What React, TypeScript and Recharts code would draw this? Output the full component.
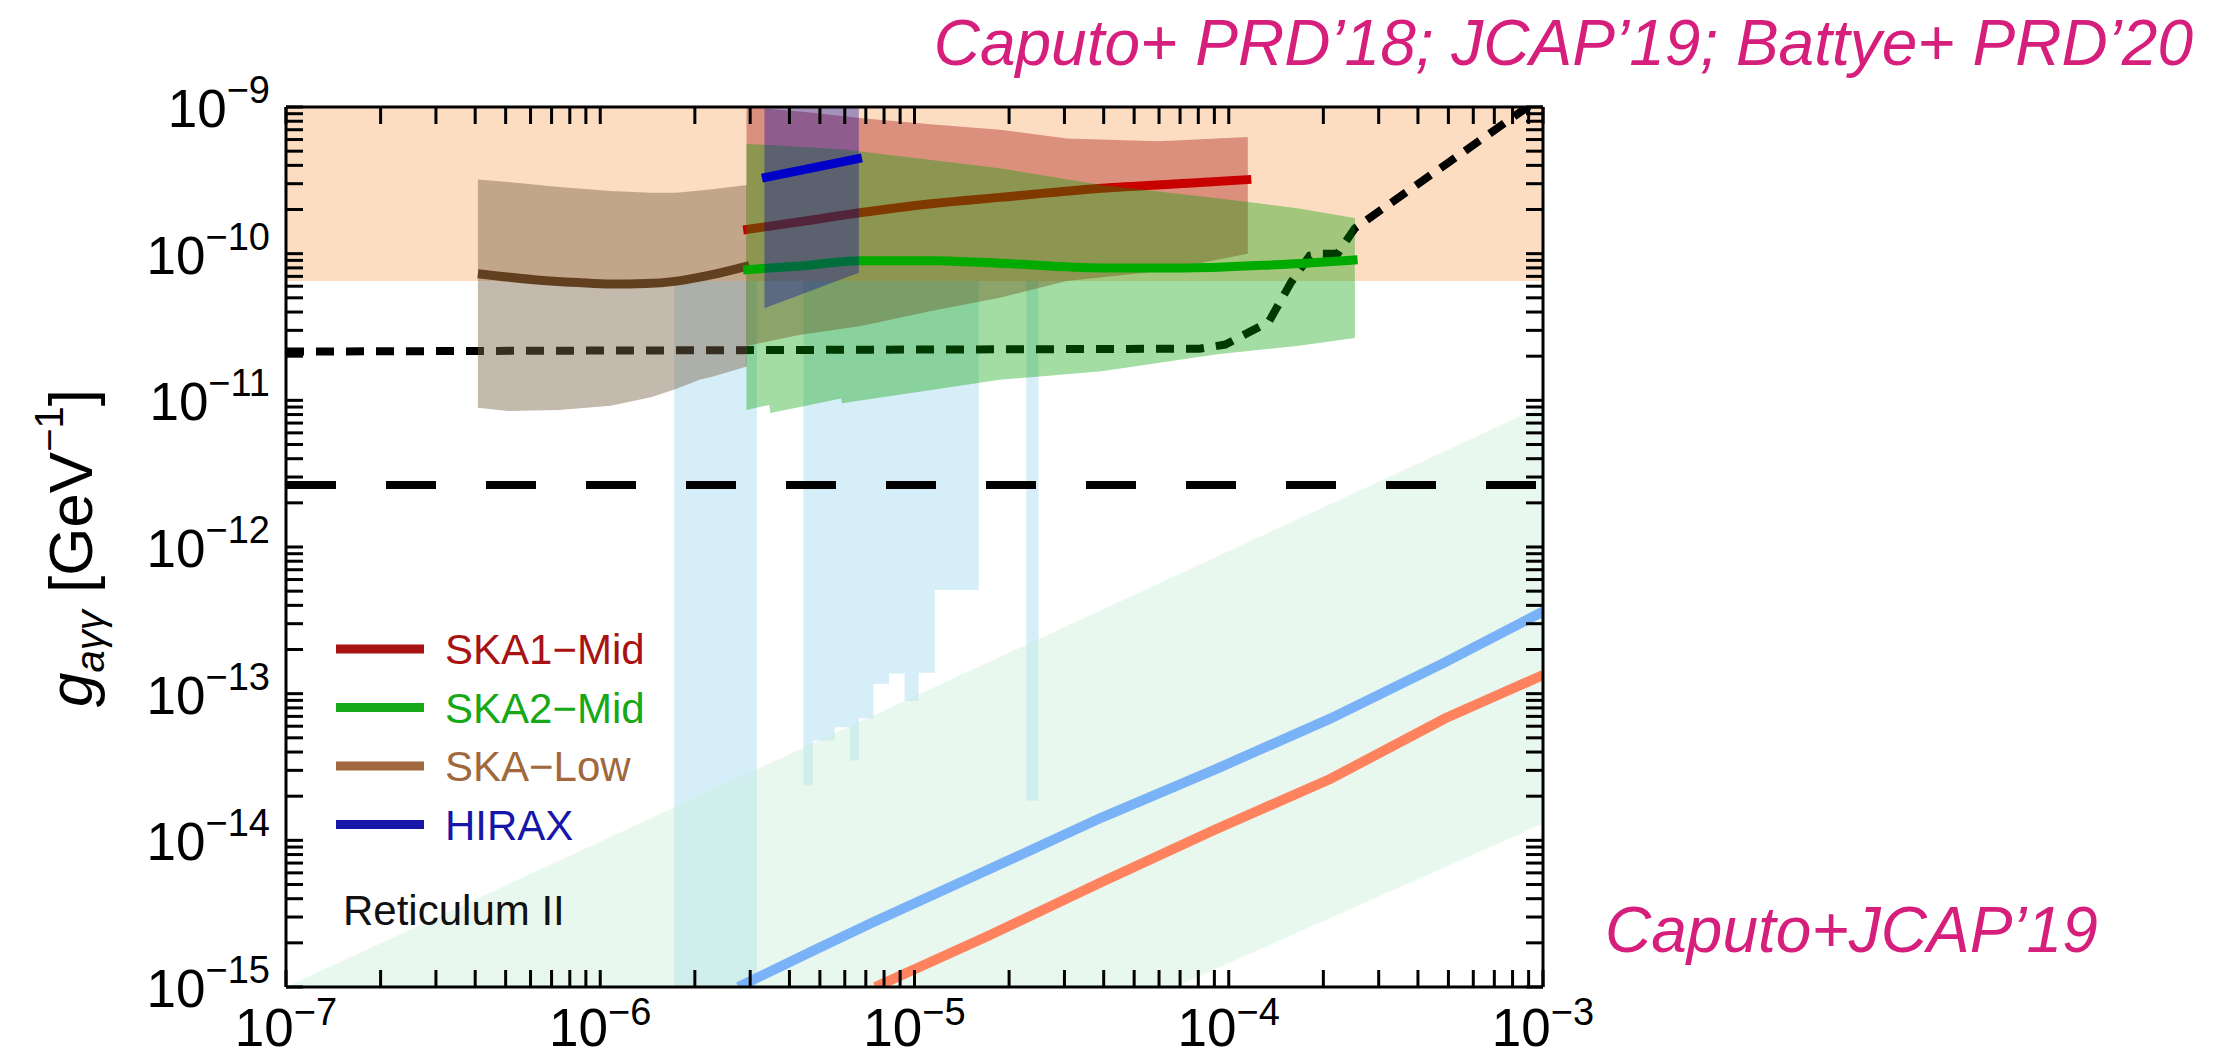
import React from 'react';
import { ComposedChart, Area, XAxis, YAxis, ReferenceLine, Legend } from 'recharts';

const WIDTH = 2234;
const HEIGHT = 1060;
const PLOT = { left: 286, right: 1543, top: 107, bottom: 987 };
const FONT = '"Liberation Sans", Arial, Helvetica, sans-serif';
const TICK_LEN = 17;
const MAGENTA = '#D61F7C';

// axis decades (log10) and minor multipliers
const X_DECADES = [-7, -6, -5, -4, -3];
const Y_DECADES = [-15, -14, -13, -12, -11, -10, -9];
const MINOR = [1, 2, 3, 4, 5, 6, 7, 8, 9];

// excluded region (top band)
const EXCL_M = [1e-7, 1e-3];
const EXCL_LO = [6.5e-11, 6.5e-11];
const EXCL_HI = [1e-9, 1e-9];

// haloscope-type vertical exclusions
const HALO1_M = [1.72e-6, 3.15e-6];
const HALO1_LO = [1e-15, 1e-15];
const HALO1_HI = [6.5e-11, 6.5e-11];
const HALO2_M = [4.43e-6, 4.75e-6, 5.57e-6, 6.24e-6, 6.65e-6, 7.4e-6, 8.3e-6, 9.3e-6, 1.03e-5, 1.16e-5, 1.6e-5];
const HALO2_LO = [2.37e-14, 4.8e-14, 5.9e-14, 3.5e-14, 6.8e-14, 1.17e-13, 1.37e-13, 8.9e-14, 1.39e-13, 5.1e-13, 5.1e-13];
const HALO2_HI = [6.5e-11, 6.5e-11, 6.5e-11, 6.5e-11, 6.5e-11, 6.5e-11, 6.5e-11, 6.5e-11, 6.5e-11, 6.5e-11, 6.5e-11];
const HALO3_M = [2.27e-5, 2.48e-5];
const HALO3_LO = [1.86e-14, 1.86e-14];
const HALO3_HI = [6.5e-11, 6.5e-11];

// Reticulum II band
const RET_M = [1e-7, 6.75e-5, 1e-3];
const RET_LO = [1e-15, 1e-15, 1.3e-14];
const RET_HI = [1e-15, 6.35e-13, 9.2e-12];

// Reticulum II lines
const RET_BLUE_M = [2.75e-6, 4.81e-6, 7.32e-6, 1.7e-5, 3.94e-5, 9.1e-5, 2.11e-4, 4.89e-4, 1e-3];
const RET_BLUE_G = [1e-15, 1.79e-15, 2.74e-15, 6.25e-15, 1.43e-14, 3.06e-14, 6.78e-14, 1.64e-13, 3.63e-13];
const RET_RED_M = [7.5e-6, 1.7e-5, 3.94e-5, 9.1e-5, 2.11e-4, 4.89e-4, 1e-3];
const RET_RED_G = [1e-15, 2.21e-15, 5.2e-15, 1.19e-14, 2.63e-14, 6.8e-14, 1.34e-13];

// short-dashed bound
const SDASH_M = [1e-7, 8.07e-5, 9.75e-5, 1.34e-4, 1.58e-4, 1.81e-4, 1.95e-4, 2.22e-4, 2.52e-4, 8.2e-4, 1e-3];
const SDASH_G = [2.15e-11, 2.25e-11, 2.4e-11, 3.42e-11, 6.4e-11, 9.7e-11, 1.0e-10, 1.0e-10, 1.49e-10, 8.8e-10, 1.18e-9];

// long-dashed bound
const LDASH_M = [1e-7, 1e-3];
const LDASH_G = [2.65e-12, 2.65e-12];

// SKA-Low
const LOW_BAND_M = [4.08e-7, 5.1e-7, 7.4e-7, 1.08e-6, 1.45e-6, 1.75e-6, 2.07e-6, 2.27e-6, 2.93e-6];
const LOW_BAND_LO = [8.9e-12, 8.45e-12, 8.6e-12, 9.2e-12, 1.05e-11, 1.2e-11, 1.38e-11, 1.45e-11, 1.7e-11];
const LOW_BAND_HI = [3.21e-10, 3.08e-10, 2.85e-10, 2.67e-10, 2.6e-10, 2.6e-10, 2.7e-10, 2.75e-10, 2.94e-10];
const LOW_M = [4.08e-7, 6.15e-7, 8.5e-7, 1.08e-6, 1.4e-6, 1.75e-6, 2.27e-6, 2.98e-6];
const LOW_G = [7.3e-11, 6.65e-11, 6.35e-11, 6.2e-11, 6.25e-11, 6.5e-11, 7.2e-11, 8.3e-11];

// SKA1-Mid
const MID1_BAND_M = [2.92e-6, 4.33e-6, 6.7e-6, 1.15e-5, 1.87e-5, 3.05e-5, 6.0e-5, 1.15e-4];
const MID1_BAND_LO = [2.35e-11, 2.8e-11, 3.2e-11, 4.1e-11, 5e-11, 6.5e-11, 7.6e-11, 1.0e-10];
const MID1_BAND_HI = [1e-9, 9.3e-10, 8.4e-10, 7.6e-10, 7.0e-10, 6.1e-10, 5.85e-10, 6.25e-10];
const MID1_M = [2.85e-6, 4.33e-6, 6.7e-6, 1.15e-5, 1.87e-5, 3.94e-5, 7.4e-5, 1.18e-4];
const MID1_G = [1.45e-10, 1.65e-10, 1.9e-10, 2.2e-10, 2.42e-10, 2.79e-10, 3.02e-10, 3.21e-10];

// SKA2-Mid
const MID2_BAND_M = [2.92e-6, 3.45e-6, 3.48e-6, 5.84e-6, 5.88e-6, 1.87e-5, 3.94e-5, 9.2e-5, 1.65e-4, 2.52e-4];
const MID2_BAND_LO = [8.6e-12, 9.3e-12, 8.2e-12, 1.03e-11, 9.55e-12, 1.38e-11, 1.58e-11, 2.06e-11, 2.35e-11, 2.66e-11];
const MID2_BAND_HI = [5.6e-10, 5.5e-10, 5.5e-10, 5.15e-10, 5.15e-10, 3.82e-10, 2.94e-10, 2.39e-10, 2.04e-10, 1.75e-10];
const MID2_M = [2.85e-6, 4.33e-6, 6.7e-6, 1.15e-5, 1.87e-5, 3.94e-5, 7.4e-5, 1.4e-4, 2.57e-4];
const MID2_G = [7.75e-11, 8.25e-11, 8.95e-11, 8.95e-11, 8.6e-11, 8.0e-11, 8.0e-11, 8.4e-11, 9.1e-11];

// HIRAX
const HIRAX_BAND_M = [3.33e-6, 6.65e-6];
const HIRAX_BAND_LO = [4.24e-11, 7.4e-11];
const HIRAX_BAND_HI = [1e-9, 1e-9];
const HIRAX_M = [3.27e-6, 6.8e-6];
const HIRAX_G = [3.27e-10, 4.5e-10];

const LEGEND_NAMES = ['SKA1\u2212Mid', 'SKA2\u2212Mid', 'SKA\u2212Low', 'HIRAX'];
const LEGEND_COLORS = ['#A81212', '#16A816', '#A0683C', '#1616A8'];

const band = (m: number[], lo: number[], hi: number[]) => m.map((x, i) => ({ x, v: [lo[i], hi[i]] }));
const curve = (m: number[], g: number[]) => m.map((x, i) => ({ x, v: g[i] }));

const X_TICKS = X_DECADES.flatMap((d) => (d === -3 ? [1e-3] : MINOR.map((k) => k * Math.pow(10, d))));
const Y_TICKS = Y_DECADES.flatMap((d) => (d === -9 ? [1e-9] : MINOR.map((k) => k * Math.pow(10, d))));

const decadeOf = (v: number) => {
  const e = Math.round(Math.log10(v));
  return Math.abs(Math.log10(v) - e) < 1e-6 ? e : null;
};

// ticks point inwards on both opposite sides of the frame
const XTick = (props: any) => {
  const x = props.payload?.coordinate ?? props.x;
  const exp = decadeOf(props.payload.value);
  return (
    <g>
      <line x1={x} x2={x} y1={PLOT.bottom} y2={PLOT.bottom - TICK_LEN} stroke="#000" strokeWidth={3} />
      <line x1={x} x2={x} y1={PLOT.top} y2={PLOT.top + TICK_LEN} stroke="#000" strokeWidth={3} />
      {exp !== null && (
        <text x={x} y={1046} textAnchor="middle" fontSize={53} fontFamily={FONT} fill="#000">
          10<tspan fontSize={38} dy={-21}>{`\u2212${-exp}`}</tspan>
        </text>
      )}
    </g>
  );
};

const YTick = (props: any) => {
  const y = props.payload?.coordinate ?? props.y;
  const exp = decadeOf(props.payload.value);
  return (
    <g>
      <line x1={PLOT.left} x2={PLOT.left + TICK_LEN} y1={y} y2={y} stroke="#000" strokeWidth={3} />
      <line x1={PLOT.right} x2={PLOT.right - TICK_LEN} y1={y} y2={y} stroke="#000" strokeWidth={3} />
      {exp !== null && (
        <text x={270} y={y + 20} textAnchor="end" fontSize={53} fontFamily={FONT} fill="#000">
          10<tspan fontSize={38} dy={-24}>{`\u2212${-exp}`}</tspan>
        </text>
      )}
    </g>
  );
};

const YTitle = () => (
  <text transform="translate(92,548) rotate(-90)" textAnchor="middle" fontSize={62} fontFamily={FONT} fill="#000">
    <tspan fontStyle="italic">g</tspan>
    <tspan fontSize={40} dy={12} fontStyle="italic">{'a\u03B3\u03B3'}</tspan>
    <tspan dy={-12}>{' [GeV'}</tspan>
    <tspan fontSize={40} dy={-29}>{'\u22121'}</tspan>
    <tspan dy={29}>]</tspan>
  </text>
);

const LegendBox = () => (
  <svg width={360} height={240}>
    {LEGEND_NAMES.map((name, i) => {
      const y = 39 + i * 58.5;
      return (
        <g key={name}>
          <line x1={16} x2={104} y1={y} y2={y} stroke={LEGEND_COLORS[i]} strokeWidth={9} />
          <text x={125} y={y + 15} fontSize={42} fontFamily={FONT} fill={LEGEND_COLORS[i]}>{name}</text>
        </g>
      );
    })}
  </svg>
);

const common = { type: 'linear' as const, dataKey: 'v', isAnimationActive: false, dot: false, activeDot: false, legendType: 'none' as const };

export default function App() {
  return (
    <div style={{ position: 'absolute', left: 0, top: 0, width: WIDTH, height: HEIGHT, background: '#fff' }}>
      <ComposedChart
        width={WIDTH}
        height={HEIGHT}
        margin={{ top: PLOT.top, right: WIDTH - PLOT.right, bottom: 0, left: 0 }}
      >
        {/* vertical exclusions */}
        <Area {...common} data={band(HALO1_M, HALO1_LO, HALO1_HI)} fill="#D6EEF8" fillOpacity={1} stroke="none" />
        <Area {...common} type="stepAfter" data={band(HALO2_M, HALO2_LO, HALO2_HI)} fill="#D6EEF8" fillOpacity={1} stroke="none" />
        <Area {...common} data={band(HALO3_M, HALO3_LO, HALO3_HI)} fill="#D6EEF8" fillOpacity={1} stroke="none" />

        {/* top excluded region */}
        <Area {...common} data={band(EXCL_M, EXCL_LO, EXCL_HI)} fill="#FDDDC2" fillOpacity={1} stroke="none" />

        {/* Reticulum II */}
        <Area {...common} data={band(RET_M, RET_LO, RET_HI)} fill="#C8EDD8" fillOpacity={0.4} stroke="none" />
        <Area {...common} data={curve(RET_BLUE_M, RET_BLUE_G)} fill="none" stroke="#7AB2F8" strokeWidth={10} />
        <Area {...common} data={curve(RET_RED_M, RET_RED_G)} fill="none" stroke="#FF825F" strokeWidth={10} />

        <Area {...common} data={curve(SDASH_M, SDASH_G)} fill="none" stroke="#000" strokeWidth={8} strokeDasharray="18 12" />

        {/* SKA-Low */}
        <Area {...common} data={band(LOW_BAND_M, LOW_BAND_LO, LOW_BAND_HI)} fill="#7A6447" fillOpacity={0.45} stroke="none" />
        <Area {...common} type="monotone" data={curve(LOW_M, LOW_G)} fill="none" stroke="#62401F" strokeWidth={9} />

        {/* SKA1-Mid */}
        <Area {...common} data={band(MID1_BAND_M, MID1_BAND_LO, MID1_BAND_HI)} fill="#9A0000" fillOpacity={0.35} stroke="none" />
        <Area {...common} type="monotone" data={curve(MID1_M, MID1_G)} fill="none" stroke="#C80000" strokeWidth={9} />

        {/* SKA2-Mid */}
        <Area {...common} data={band(MID2_BAND_M, MID2_BAND_LO, MID2_BAND_HI)} fill="#00A000" fillOpacity={0.36} stroke="none" />
        <Area {...common} type="monotone" data={curve(MID2_M, MID2_G)} fill="none" stroke="#00AA00" strokeWidth={9} />

        {/* HIRAX */}
        <Area {...common} data={band(HIRAX_BAND_M, HIRAX_BAND_LO, HIRAX_BAND_HI)} fill="#0000A8" fillOpacity={0.35} stroke="none" />
        <Area {...common} data={curve(HIRAX_M, HIRAX_G)} fill="none" stroke="#0000C8" strokeWidth={9} />

        <Area {...common} data={curve(LDASH_M, LDASH_G)} fill="none" stroke="#000" strokeWidth={8} strokeDasharray="50 50" />

        <ReferenceLine y={1e-9} stroke="#000" strokeWidth={3} />
        <ReferenceLine x={1e-3} stroke="#000" strokeWidth={3} />

        <XAxis
          dataKey="x"
          type="number"
          scale="log"
          domain={[1e-7, 1e-3]}
          allowDataOverflow
          ticks={X_TICKS}
          interval={0}
          tick={<XTick />}
          tickLine={false}
          axisLine={{ stroke: '#000', strokeWidth: 3 }}
          height={HEIGHT - PLOT.bottom}
        />
        <YAxis
          type="number"
          scale="log"
          domain={[1e-15, 1e-9]}
          allowDataOverflow
          ticks={Y_TICKS}
          interval={0}
          tick={<YTick />}
          tickLine={false}
          axisLine={{ stroke: '#000', strokeWidth: 3 }}
          width={PLOT.left}
          label={<YTitle />}
        />
        <Legend
          layout="vertical"
          align="center"
          verticalAlign="middle"
          content={<LegendBox />}
          wrapperStyle={{ left: 320, top: 610, width: 360, height: 240 }}
        />
      </ComposedChart>
      <svg width={WIDTH} height={HEIGHT} style={{ position: 'absolute', left: 0, top: 0, pointerEvents: 'none' }}>
        <text x={2193} y={65} textAnchor="end" fontSize={64} fontStyle="italic" fontFamily={FONT} fill={MAGENTA}>
          Caputo+ PRD’18; JCAP’19; Battye+ PRD’20
        </text>
        <text x={1605} y={952} fontSize={64} fontStyle="italic" fontFamily={FONT} fill={MAGENTA}>
          Caputo+JCAP’19
        </text>
        <text x={343} y={925} fontSize={42} fontFamily={FONT} fill="#111">
          Reticulum II
        </text>
      </svg>
    </div>
  );
}
